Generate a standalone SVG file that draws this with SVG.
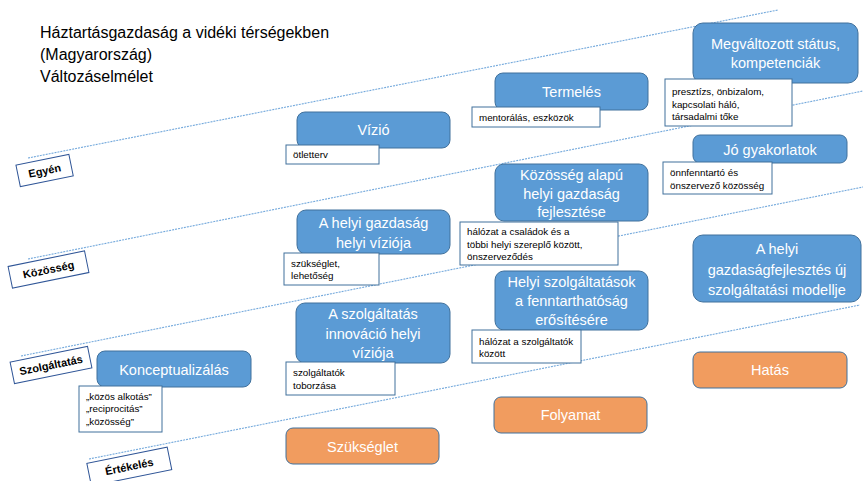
<svg xmlns="http://www.w3.org/2000/svg" width="863" height="481" viewBox="0 0 863 481">
<style>
text{font-family:"Liberation Sans",Arial,sans-serif}
.title{font-size:16px;fill:#000}
.band{stroke:#74a9dc;stroke-width:1.1;stroke-dasharray:2 1;fill:none}
.blue{fill:#5b9bd5;stroke:#41719c;stroke-width:1}
.orange{fill:#f19c5f;stroke:#41719c;stroke-width:1}
.bt{font-size:14.5px;fill:#fff;text-anchor:middle}
.note{fill:#fff;stroke:#41719c;stroke-width:1}
.nt{font-size:9.8px;fill:#000}
.lab{fill:#fff;stroke:#2f5597;stroke-width:1}
.lt{font-size:11px;font-weight:bold;fill:#000;text-anchor:middle}
</style>
<rect width="863" height="481" fill="#fff"/>
<g id="title">
<text class="title" x="40" y="38">Háztartásgazdaság a vidéki térségekben</text>
<text class="title" x="40" y="60">(Magyarország)</text>
<text class="title" x="40" y="82">Változáselmélet</text>
</g>
<g id="connectors">
<line class="band" x1="28" y1="158" x2="778" y2="10"/>
<line class="band" x1="28" y1="259" x2="863" y2="91"/>
<line class="band" x1="21" y1="356" x2="863" y2="187"/>
<line class="band" x1="89" y1="459" x2="860" y2="305"/>
</g>
<g id="label-egyen" transform="translate(44.6,170.5) rotate(-11.5)">
<rect class="lab" x="-27" y="-11" width="54" height="22"/>
<text class="lt" x="0" y="4">Egyén</text>
</g>
<g id="label-kozosseg" transform="translate(48.5,269.5) rotate(-11.5)">
<rect class="lab" x="-39" y="-11" width="78" height="22"/>
<text class="lt" x="0" y="4">Közösség</text>
</g>
<g id="label-szolgaltatas" transform="translate(51,365) rotate(-11.5)">
<rect class="lab" x="-39.5" y="-11" width="79" height="22"/>
<text class="lt" x="0" y="4">Szolgáltatás</text>
</g>
<g id="label-ertekeles" transform="translate(129.3,466.5) rotate(-11.5)">
<rect class="lab" x="-41" y="-11.5" width="82" height="23"/>
<text class="lt" x="0" y="4">Értékelés</text>
</g>
<g id="vizio">
<rect class="blue" x="297" y="112" width="153" height="36" rx="8"/>
<text class="bt" x="373.5" y="135">Vízió</text>
</g>
<g id="note-otletterv">
<rect class="note" x="286" y="145" width="93" height="19"/>
<text class="nt" x="293" y="158">ötletterv</text>
</g>
<g id="termeles">
<rect class="blue" x="495" y="73" width="153" height="37" rx="8"/>
<text class="bt" x="571.5" y="96.5">Termelés</text>
</g>
<g id="note-mentoralas">
<rect class="note" x="472" y="107" width="128" height="20"/>
<text class="nt" x="479" y="120.5">mentorálás, eszközök</text>
</g>
<g id="megvaltozott">
<rect class="blue" x="693" y="23" width="165" height="60" rx="10"/>
<text class="bt" x="775.5" y="49">Megváltozott státus,</text>
<text class="bt" x="775.5" y="68">kompetenciák</text>
</g>
<g id="note-presztizs">
<rect class="note" x="665" y="79" width="127" height="47"/>
<text class="nt" x="672" y="95">presztízs, önbizalom,</text>
<text class="nt" x="672" y="107.5">kapcsolati háló,</text>
<text class="nt" x="672" y="120">társadalmi tőke</text>
</g>
<g id="jo-gyakorlatok">
<rect class="blue" x="693" y="135" width="154" height="28" rx="7"/>
<text class="bt" x="770" y="154.5">Jó gyakorlatok</text>
</g>
<g id="note-onnfenntarto">
<rect class="note" x="663" y="162" width="109" height="32"/>
<text class="nt" x="670" y="175.5">önnfenntartó és</text>
<text class="nt" x="670" y="188.5">önszervező közösség</text>
</g>
<g id="kozosseg-alapu">
<rect class="blue" x="495" y="164" width="153" height="57" rx="9"/>
<text class="bt" x="571.5" y="180">Közösség alapú</text>
<text class="bt" x="571.5" y="198.5">helyi gazdaság</text>
<text class="bt" x="571.5" y="217">fejlesztése</text>
</g>
<g id="note-halozat-csaladok">
<rect class="note" x="460" y="222" width="158" height="43"/>
<text class="nt" x="467" y="235">hálózat a családok és a</text>
<text class="nt" x="467" y="247.5">többi helyi szereplő között,</text>
<text class="nt" x="467" y="260">önszerveződés</text>
</g>
<g id="helyi-gazdasag-vizio">
<rect class="blue" x="297" y="210" width="153" height="44" rx="9"/>
<text class="bt" x="373.5" y="228">A helyi gazdaság</text>
<text class="bt" x="373.5" y="248">helyi víziója</text>
</g>
<g id="note-szukseglet">
<rect class="note" x="284" y="253" width="95" height="32"/>
<text class="nt" x="291" y="266.5">szükséglet,</text>
<text class="nt" x="291" y="279">lehetőség</text>
</g>
<g id="helyi-szolgaltatasok">
<rect class="blue" x="495" y="271" width="153" height="59" rx="9"/>
<text class="bt" x="571.5" y="287">Helyi szolgáltatások</text>
<text class="bt" x="571.5" y="306">a fenntarthatóság</text>
<text class="bt" x="571.5" y="325">erősítésére</text>
</g>
<g id="note-halozat-szolgaltatok">
<rect class="note" x="472" y="330" width="109" height="33"/>
<text class="nt" x="479" y="344.5">hálózat a szolgáltatók</text>
<text class="nt" x="479" y="357">között</text>
</g>
<g id="uj-modell">
<rect class="blue" x="693" y="235" width="168" height="67" rx="10"/>
<text class="bt" x="777" y="254">A helyi</text>
<text class="bt" x="777" y="275">gazdaságfejlesztés új</text>
<text class="bt" x="777" y="295">szolgáltatási modellje</text>
</g>
<g id="szolgaltatas-innovacio">
<rect class="blue" x="296" y="303" width="154" height="60" rx="9"/>
<text class="bt" x="373" y="319">A szolgáltatás</text>
<text class="bt" x="373" y="338.5">innováció helyi</text>
<text class="bt" x="373" y="358">víziója</text>
</g>
<g id="note-toborzas">
<rect class="note" x="286" y="362" width="109" height="33"/>
<text class="nt" x="293" y="375.5">szolgáltatók</text>
<text class="nt" x="293" y="388.5">toborzása</text>
</g>
<g id="konceptualizalas">
<rect class="blue" x="97" y="351" width="154" height="36" rx="8"/>
<text class="bt" x="174" y="374.5">Konceptualizálás</text>
</g>
<g id="note-kozos">
<rect class="note" x="79" y="386" width="83" height="46"/>
<text class="nt" x="86" y="399.5">„közös alkotás”</text>
<text class="nt" x="86" y="412">„reciprocitás”</text>
<text class="nt" x="86" y="425">„közösség”</text>
</g>
<g id="szukseglet">
<rect class="orange" x="286" y="428" width="153" height="36" rx="7"/>
<text class="bt" x="362.5" y="451.5">Szükséglet</text>
</g>
<g id="folyamat">
<rect class="orange" x="494" y="397" width="153" height="36" rx="7"/>
<text class="bt" x="570.5" y="420">Folyamat</text>
</g>
<g id="hatas">
<rect class="orange" x="693" y="352" width="154" height="36" rx="7"/>
<text class="bt" x="770" y="375">Hatás</text>
</g>
</svg>
